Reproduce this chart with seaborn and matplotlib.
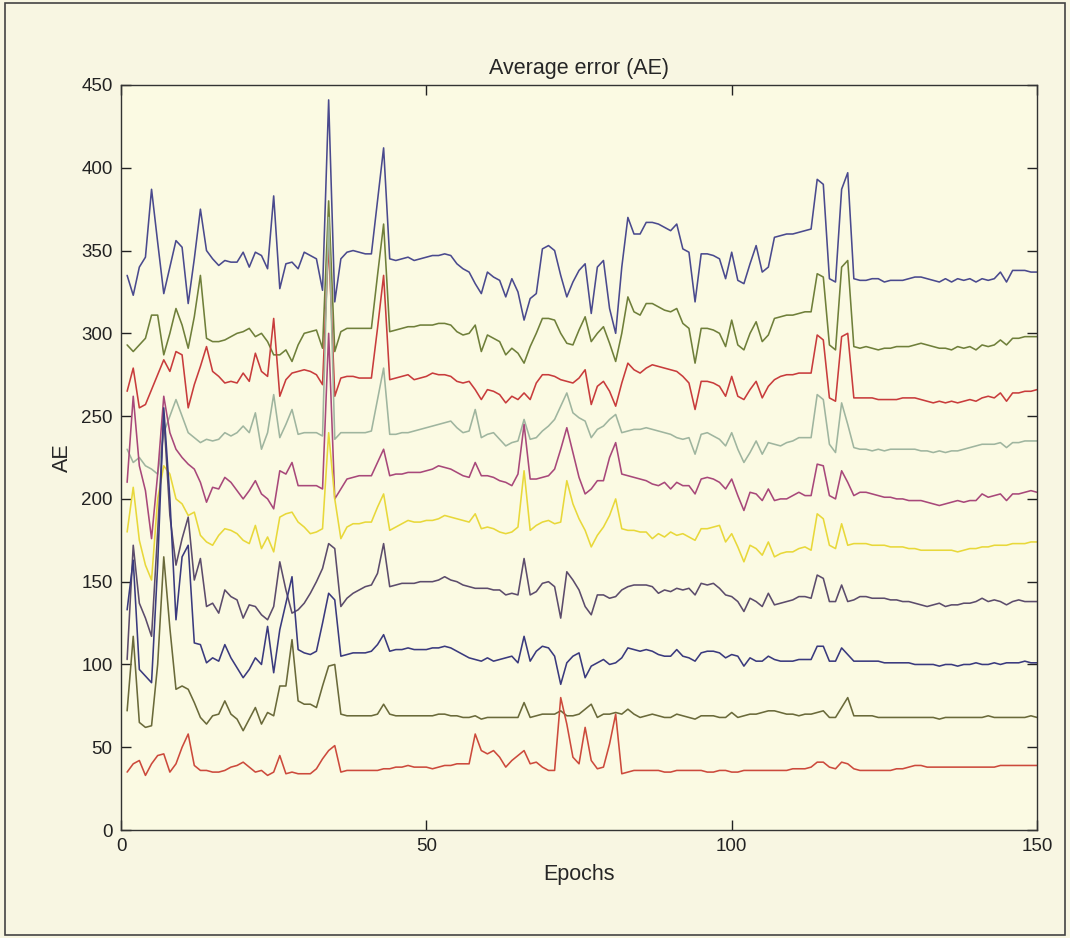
import numpy as np
import pandas as pd
import matplotlib
matplotlib.use("Agg")
import matplotlib.pyplot as plt
import seaborn as sns
from matplotlib.patches import Rectangle

ae_1 = [335, 323, 340, 346, 387, 355, 324, 340, 356, 352, 318, 345, 375, 350, 345,
        341, 344, 343, 343, 349, 340, 349, 347, 339, 383, 327, 342, 343, 339, 349, 347,
        345, 326, 441, 319, 345, 349, 350, 349, 348, 348, 380, 412, 345, 344, 345, 346,
        344, 345, 346, 347, 347, 348, 347, 342, 339, 337, 330, 324, 337, 334, 332, 322, 333, 325, 308, 321, 324, 351, 353, 350, 335, 322, 331, 338, 342, 312, 340,
        344, 315, 300, 340, 370, 360, 360, 367, 367, 366, 364, 362, 366, 351, 349, 319, 348, 348, 347, 345, 333, 349, 332, 330, 342, 353, 337, 340, 358, 359, 360, 360, 361,
        362, 363, 393, 390, 333, 331, 387, 397, 333,
        332, 332, 333, 333, 331, 332, 332, 332, 333, 334, 334, 333, 332, 331, 333, 331, 333, 332, 333, 331, 333, 332, 333, 337, 331, 338, 338, 338, 337, 337]
ae_2 = [293, 289, 293, 297, 311, 311, 287, 300, 315, 305, 291, 310, 335, 297, 295,
        295, 296, 298, 300, 301, 303, 298, 300, 295, 287, 287, 290, 283, 293, 300, 301,
        302, 291, 380, 289, 301, 303, 303, 303, 303, 303, 335, 366, 301, 302, 303, 304,
        304, 305, 305, 305, 306, 306, 305, 301, 299, 300, 305, 289, 299, 297, 295, 287, 291, 288, 282, 292, 300, 309, 309, 308, 300, 294, 293, 302, 310, 295, 300,
        304, 294, 283, 300, 322, 313, 311, 318, 318, 316, 314, 313, 315, 306, 303, 282, 303, 303, 302, 300, 292, 308, 293, 290, 300, 307, 295, 299, 309, 310, 311, 311, 312,
        313, 313, 336, 334, 293, 290, 340, 344, 292,
        291, 292, 291, 290, 291, 291, 292, 292, 292, 293, 294, 293, 292, 291, 291, 290, 292, 291, 292, 290, 293, 292, 293, 296, 293, 297, 297, 298, 298, 298]
ae_3 = [265, 279, 255, 257, 266, 275, 284, 277, 289, 287, 255, 269, 280, 292, 277,
        274, 270, 271, 270, 276, 271, 288, 277, 274, 309, 262, 272, 276, 277, 278, 277,
        275, 269, 355, 262, 273, 274, 274, 273, 273, 273, 303, 335, 272, 273, 274, 275,
        272, 273, 274, 276, 275, 275, 274, 271, 270, 271, 266, 260, 266, 265, 263, 258, 262, 260, 264, 260, 270, 275, 275, 274, 272, 271, 270, 273, 278, 257, 268,
        271, 265, 256, 270, 282, 278, 276, 279, 281, 280, 279, 278, 277, 274, 270, 254, 271, 271, 270, 268, 262, 274, 262, 260, 266, 271, 261, 268, 272, 274, 275, 275, 276,
        276, 276, 299, 296, 261, 259, 298, 300, 261,
        261, 261, 261, 260, 260, 260, 260, 261, 261, 261, 260, 259, 258, 259, 258, 259, 258, 259, 260, 259, 261, 262, 261, 264, 259, 264, 264, 265, 265, 266]
ae_4 = [230, 222, 225, 220, 218, 215, 240, 250, 260, 250, 240, 237, 234, 236, 235,
        236, 240, 238, 240, 244, 240, 252, 230, 240, 263, 237, 245, 254, 239, 240, 240,
        240, 238, 370, 236, 240, 240, 240, 240, 240, 241, 260, 279, 239, 239, 240, 240,
        241, 242, 243, 244, 245, 246, 247, 243, 240, 241, 254, 237, 239, 240, 236, 232, 234, 235, 248, 236, 237, 241, 244, 248, 256, 264, 252, 249, 247, 237, 242,
        244, 248, 251, 240, 241, 242, 242, 243, 242, 241, 240, 239, 237, 236, 237, 227, 239, 240, 238, 236, 232, 240, 230, 222, 228, 235, 227, 234, 233, 232, 234, 235, 237,
        237, 237, 263, 260, 233, 228, 258, 245, 231,
        230, 230, 229, 230, 229, 230, 230, 230, 230, 230, 229, 229, 228, 229, 228, 229, 229, 230, 231, 232, 233, 233, 233, 234, 231, 234, 234, 235, 235, 235]
ae_5 = [210, 262, 220, 205, 176, 215, 262, 240, 230, 225, 221, 218, 210, 198, 207,
        206, 213, 210, 205, 200, 205, 211, 203, 200, 194, 217, 215, 222, 208, 208, 208,
        208, 206, 300, 200, 206, 212, 213, 214, 214, 214, 222, 230, 214, 215, 215, 216,
        216, 216, 217, 218, 220, 219, 218, 216, 214, 213, 222, 214, 214, 213, 211, 210, 208, 215, 245, 212, 212, 213, 214, 218, 230, 243, 228, 213, 203, 206, 211,
        211, 225, 234, 215, 214, 213, 212, 211, 209, 208, 210, 206, 210, 208, 208, 203, 212, 213, 212, 210, 206, 212, 202, 193, 204, 203, 199, 206, 199, 200, 200, 202, 204,
        202, 202, 221, 220, 202, 200, 217, 210, 202,
        204, 204, 203, 202, 201, 201, 200, 200, 199, 199, 199, 198, 197, 196, 197, 198, 199, 198, 199, 199, 203, 201, 202, 203, 199, 203, 203, 204, 205, 204]
ae_6 = [180, 207, 175, 160, 151, 200, 220, 215, 200, 197, 190, 192, 178, 174, 172,
        178, 182, 181, 179, 175, 173, 184, 170, 177, 168, 189, 191, 192, 186, 183, 179,
        180, 182, 240, 200, 176, 183, 185, 185, 186, 186, 195, 203, 181, 183, 185, 187,
        186, 186, 187, 187, 188, 190, 189, 188, 187, 186, 191, 182, 183, 182, 180, 179, 180, 183, 217, 181, 184, 186, 187, 185, 186, 211, 197, 188, 181, 171, 178,
        183, 190, 200, 182, 181, 181, 180, 180, 176, 179, 177, 180, 178, 179, 177, 175, 182, 182, 183, 184, 174, 179, 171, 162, 172, 170, 166, 174, 165, 167, 168, 168, 170,
        171, 169, 191, 188, 172, 170, 185, 172, 173,
        173, 173, 172, 172, 172, 171, 171, 171, 170, 170, 169, 169, 169, 169, 169, 169, 168, 169, 170, 170, 171, 171, 172, 172, 172, 173, 173, 173, 174, 174]
ae_7 = [103, 172, 137, 128, 117, 180, 250, 190, 160, 176, 189, 151, 164, 135, 137,
        131, 145, 141, 139, 128, 136, 135, 130, 127, 135, 162, 145, 131, 133, 137, 143,
        150, 158, 173, 170, 135, 140, 143, 145, 147, 148, 155, 173, 147, 148, 149, 149,
        149, 150, 150, 150, 151, 153, 151, 150, 148, 147, 146, 146, 146, 145, 145, 142, 143, 142, 164, 142, 144, 149, 150, 147, 128, 156, 151, 145, 135, 130, 142,
        142, 140, 141, 145, 147, 148, 148, 148, 147, 143, 145, 144, 146, 145, 146, 142, 149, 148, 149, 146, 142, 141, 138, 132, 140, 138, 135, 143, 136, 137, 138, 139, 141,
        141, 140, 154, 152, 138, 138, 148, 138, 139,
        141, 141, 140, 140, 140, 139, 139, 138, 138, 137, 136, 135, 136, 137, 135, 136, 136, 137, 137, 138, 140, 138, 139, 138, 136, 138, 139, 138, 138, 138]
ae_8 = [133, 163, 97, 93, 89, 160, 255, 200, 127, 165, 172, 113, 112, 101, 104,
        102, 112, 104, 98, 92, 97, 104, 100, 123, 95, 121, 137, 153, 109, 107, 106,
        108, 125, 143, 139, 105, 106, 107, 107, 107, 108, 112, 118, 108, 109, 109, 110,
        109, 109, 109, 110, 110, 111, 110, 108, 106, 104, 103, 102, 104, 102, 103, 104, 105, 101, 117, 102, 108, 111, 110, 105, 88, 101, 105, 107, 92, 99, 101,
        103, 100, 101, 104, 110, 109, 108, 109, 108, 106, 105, 105, 109, 105, 104, 102, 107, 108, 108, 107, 104, 106, 105, 99, 104, 102, 102, 105, 103, 102, 102, 102, 103,
        103, 103, 111, 111, 102, 102, 110, 106, 102,
        102, 102, 102, 102, 101, 101, 101, 101, 101, 100, 100, 100, 100, 99, 100, 100, 99, 100, 100, 101, 100, 100, 101, 100, 101, 101, 101, 102, 101, 101]
ae_9 = [72, 117, 65, 62, 63, 100, 165, 122, 85, 87, 85, 77, 68, 64, 69,
        70, 78, 70, 67, 60, 67, 74, 64, 71, 69, 87, 87, 115, 78, 76, 76,
        74, 87, 99, 100, 70, 69, 69, 69, 69, 69, 70, 76, 70, 69, 69, 69,
        69, 69, 69, 69, 70, 70, 69, 69, 68, 68, 69, 67, 68, 68, 68, 68, 68, 68, 77, 68, 69, 70, 70, 70, 72, 69, 69, 70, 73, 76, 68,
        70, 70, 71, 70, 73, 70, 68, 69, 70, 69, 68, 68, 70, 69, 68, 67, 69, 69, 69, 68, 68, 71, 68, 69, 70, 70, 71, 72, 72, 71, 70, 70, 69,
        70, 70, 71, 72, 68, 68, 74, 80, 69,
        69, 69, 69, 68, 68, 68, 68, 68, 68, 68, 68, 68, 68, 67, 68, 68, 68, 68, 68, 68, 68, 69, 68, 68, 68, 68, 68, 68, 69, 68]
ae_10 = [35, 40, 42, 33, 40, 45, 46, 35, 40, 50, 58, 39, 36, 36, 35,
         35, 36, 38, 39, 41, 38, 35, 36, 33, 35, 45, 34, 35, 34, 34, 34,
         37, 43, 48, 51, 35, 36, 36, 36, 36, 36, 36, 37, 37, 38, 38, 39,
         38, 38, 38, 37, 38, 39, 39, 40, 40, 40, 58, 48, 46, 48, 44, 38, 42, 45, 48, 40, 41, 38, 36, 36, 80, 64, 44, 40, 62, 42, 37,
         38, 52, 70, 34, 35, 36, 36, 36, 36, 36, 35, 35, 36, 36, 36, 36, 36, 35, 35, 36, 36, 35, 35, 36, 36, 36, 36, 36, 36, 36, 36, 37, 37,
         37, 38, 41, 41, 38, 37, 41, 40, 37,
         36, 36, 36, 36, 36, 36, 37, 37, 38, 39, 39, 38, 38, 38, 38, 38, 38, 38, 38, 38, 38, 38, 38, 39, 39, 39, 39, 39, 39, 39]

series_names = ["s1", "s2", "s3", "s4", "s5", "s6", "s7", "s8", "s9", "s10"]
series_values = [ae_1, ae_2, ae_3, ae_4, ae_5, ae_6, ae_7, ae_8, ae_9, ae_10]
series_colors = ["#4a4a8e", "#6f7f3a", "#c83c3c", "#9fb59f", "#a8487a",
                 "#e8d83a", "#5c4c6c", "#3a3a7e", "#6a6a3a", "#cc4a3c"]
x_ticks = [0, 50, 100, 150]
y_ticks = [0, 50, 100, 150, 200, 250, 300, 350, 400, 450]

frames = []
for name, vals in zip(series_names, series_values):
    frames.append(pd.DataFrame({"Epochs": np.arange(1, len(vals) + 1),
                                "AE": vals, "series": name}))
df = pd.concat(frames, ignore_index=True)

sns.set_style("ticks")
plt.rcParams["font.family"] = ["Liberation Sans", "DejaVu Sans"]

fig = plt.figure(figsize=(10.70, 9.38), dpi=100, facecolor="#f8f6e2")
ax = fig.add_axes([0.1131, 0.1151, 0.8561, 0.7943])
ax.set_facecolor("#fbfae3")

sns.lineplot(data=df, x="Epochs", y="AE", hue="series",
             palette=dict(zip(series_names, series_colors)),
             hue_order=series_names, linewidth=1.15, legend=False, ax=ax)

ax.set_xlim(0, 150)
ax.set_ylim(0, 450)
ax.set_xticks(x_ticks)
ax.set_yticks(y_ticks)
ax.tick_params(direction="in", length=7, width=1, top=True, right=True,
               labelsize=13.5, colors="#222222", pad=6)
for sp in ax.spines.values():
    sp.set_visible(True)
    sp.set_color("#333333")
    sp.set_linewidth(1.0)
ax.set_xlabel("Epochs", fontsize=15.5, labelpad=6)
ax.set_ylabel("AE", fontsize=15.5, labelpad=6)
ax.set_title("Average error (AE)", fontsize=15.5, pad=8)

fig.patches.append(Rectangle((0.005, 0.003), 0.99, 0.994, transform=fig.transFigure,
                             fill=False, edgecolor="#444444", linewidth=1.2))

fig.savefig("out.png", dpi=100, facecolor=fig.get_facecolor())
